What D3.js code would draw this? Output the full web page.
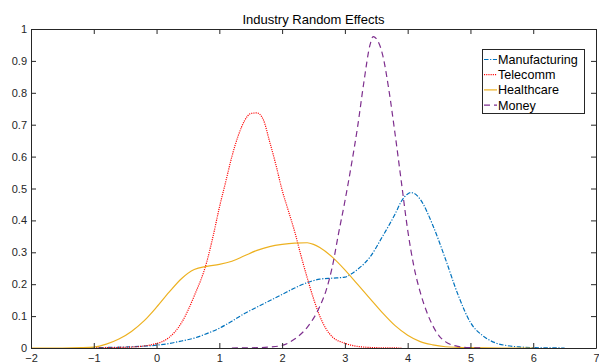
<!DOCTYPE html>
<html>
<head>
<meta charset="utf-8">
<script src="https://cdn.jsdelivr.net/npm/d3@7"></script>
<style>
  html, body { margin: 0; padding: 0; background: #fff; }
  svg { display: block; font-family: "Liberation Sans", Arial, Helvetica, sans-serif; }
</style>
</head>
<body>
<svg id="chart" width="599" height="363"></svg>
<script>
// Kernel density estimates of the industry random effects
const manufacturingX = [-1.2, -1.0, -0.5, 0.0, 0.2, 0.4, 0.6, 0.8, 1.0, 1.2, 1.4, 1.6, 1.8, 2.0, 2.2, 2.4, 2.6, 2.8, 3.0, 3.1, 3.2, 3.4, 3.6, 3.8, 3.9, 4.0, 4.05, 4.1, 4.2, 4.4, 4.6, 4.8, 5.0, 5.2, 5.4, 5.6, 5.8, 6.0, 6.5];
const manufacturingY = [0, 0.001, 0.003, 0.009, 0.014, 0.022, 0.031, 0.045, 0.062, 0.084, 0.108, 0.128, 0.148, 0.168, 0.188, 0.205, 0.216, 0.219, 0.222, 0.232, 0.246, 0.285, 0.35, 0.42, 0.46, 0.483, 0.487, 0.485, 0.466, 0.385, 0.28, 0.168, 0.08, 0.038, 0.016, 0.007, 0.003, 0.001, 0];

const telecommX = [-1.0, -0.8, -0.4, 0.0, 0.2, 0.4, 0.6, 0.8, 0.9, 1.0, 1.1, 1.2, 1.3, 1.4, 1.5, 1.6, 1.7, 1.8, 1.9, 2.0, 2.1, 2.2, 2.3, 2.4, 2.5, 2.6, 2.7, 2.8, 3.0, 3.2, 3.5, 3.9];
const telecommY = [0, 0.001, 0.003, 0.014, 0.033, 0.08, 0.163, 0.27, 0.35, 0.44, 0.52, 0.6, 0.665, 0.712, 0.735, 0.737, 0.716, 0.648, 0.575, 0.495, 0.43, 0.365, 0.29, 0.22, 0.155, 0.1, 0.06, 0.035, 0.015, 0.005, 0.001, 0];

const healthcareX = [-2.0, -1.5, -1.2, -1.0, -0.8, -0.6, -0.4, -0.2, 0.0, 0.2, 0.4, 0.6, 0.8, 1.0, 1.2, 1.4, 1.6, 1.8, 2.0, 2.2, 2.4, 2.5, 2.6, 2.8, 3.0, 3.2, 3.4, 3.6, 3.8, 4.0, 4.2, 4.4, 4.6, 4.8, 5.0, 5.5, 6.0];
const healthcareY = [0, 0, 0.001, 0.003, 0.012, 0.028, 0.052, 0.085, 0.128, 0.175, 0.218, 0.246, 0.256, 0.262, 0.272, 0.289, 0.306, 0.318, 0.325, 0.329, 0.33, 0.325, 0.315, 0.285, 0.245, 0.2, 0.155, 0.11, 0.07, 0.04, 0.02, 0.01, 0.004, 0.002, 0.001, 0, 0];

const moneyX = [1.2, 1.6, 1.8, 2.0, 2.2, 2.4, 2.6, 2.7, 2.8, 2.9, 3.0, 3.1, 3.2, 3.3, 3.4, 3.45, 3.5, 3.6, 3.7, 3.8, 3.9, 4.0, 4.1, 4.2, 4.3, 4.4, 4.5, 4.6, 4.8, 5.0, 5.2];
const moneyY = [0, 0.001, 0.003, 0.008, 0.028, 0.065, 0.13, 0.18, 0.255, 0.36, 0.46, 0.57, 0.69, 0.83, 0.95, 0.976, 0.97, 0.92, 0.81, 0.67, 0.52, 0.37, 0.255, 0.175, 0.115, 0.07, 0.038, 0.02, 0.005, 0.001, 0];

const seriesNames = ["Manufacturing", "Telecomm", "Healthcare", "Money"];
const xTicks = [-2, -1, 0, 1, 2, 3, 4, 5, 6, 7];
const yTicks = [0, 0.1, 0.2, 0.3, 0.4, 0.5, 0.6, 0.7, 0.8, 0.9, 1];
const titleText = "Industry Random Effects";

const series = [
  { name: seriesNames[0], xs: manufacturingX, ys: manufacturingY, color: "#0072BD", dash: "4.5,1.6,1.2,1.6" },
  { name: seriesNames[1], xs: telecommX, ys: telecommY, color: "#FF0000", dash: "1.1,1.1" },
  { name: seriesNames[2], xs: healthcareX, ys: healthcareY, color: "#EDB120", dash: null },
  { name: seriesNames[3], xs: moneyX, ys: moneyY, color: "#7E2F8E", dash: "6,4" }
];

const svg = d3.select("#chart");
const m = { left: 31, right: 596, top: 29, bottom: 348 };
const x = d3.scaleLinear().domain([-2, 7]).range([m.left, m.right]);
const y = d3.scaleLinear().domain([0, 1]).range([m.bottom, m.top]);
const axisColor = "#262626";
const tickLen = 5;

// Curves
const line = d3.line()
  .x(d => x(d[0]))
  .y(d => y(d[1]))
  .curve(d3.curveMonotoneX);

const plot = svg.append("g");
series.forEach(s => {
  const pts = s.xs.map((v, i) => [v, s.ys[i]]);
  const p = plot.append("path")
    .datum(pts)
    .attr("d", line)
    .attr("fill", "none")
    .attr("stroke", s.color)
    .attr("stroke-width", 1.2);
  if (s.dash) p.attr("stroke-dasharray", s.dash);
});

// Axes (box with inward ticks on all sides)
const axes = svg.append("g");
axes.append("g")
  .attr("transform", `translate(0,${m.bottom})`)
  .call(d3.axisBottom(x).tickValues(xTicks).tickSizeInner(-tickLen).tickSizeOuter(0).tickPadding(6).tickFormat(d3.format("d")));
axes.append("g")
  .attr("transform", `translate(0,${m.top})`)
  .call(d3.axisTop(x).tickValues(xTicks).tickSizeInner(-tickLen).tickSizeOuter(0).tickFormat(""));
axes.append("g")
  .attr("transform", `translate(${m.left},0)`)
  .call(d3.axisLeft(y).tickValues(yTicks).tickSizeInner(-tickLen).tickSizeOuter(0).tickPadding(4).tickFormat(d => d === 0 || d === 1 ? String(d) : d3.format(".1f")(d)));
axes.append("g")
  .attr("transform", `translate(${m.right},0)`)
  .call(d3.axisRight(y).tickValues(yTicks).tickSizeInner(-tickLen).tickSizeOuter(0).tickFormat(""));

axes.selectAll(".domain").attr("stroke", axisColor).attr("stroke-width", 1);
axes.selectAll(".tick line").attr("stroke", axisColor).attr("stroke-width", 1);
axes.selectAll(".tick text")
  .attr("fill", axisColor)
  .style("font-size", "11px")
  .style("font-family", "'Liberation Sans', Arial, Helvetica, sans-serif");

// Title
svg.append("text")
  .attr("x", (m.left + m.right) / 2)
  .attr("y", 24)
  .attr("text-anchor", "middle")
  .attr("fill", "#000")
  .style("font-size", "13px")
  .text(titleText);

// Legend
const lg = svg.append("g").attr("transform", "translate(482,49)");
lg.append("rect")
  .attr("x", 0.5).attr("y", 0.5)
  .attr("width", 102).attr("height", 64)
  .attr("fill", "#fff")
  .attr("stroke", axisColor)
  .attr("stroke-width", 1);
series.forEach((s, i) => {
  const cy = 10.5 + i * 15.2;
  const l = lg.append("line")
    .attr("x1", 2).attr("x2", 15)
    .attr("y1", cy).attr("y2", cy)
    .attr("stroke", s.color)
    .attr("stroke-width", 1.2);
  if (s.dash) l.attr("stroke-dasharray", s.dash);
  lg.append("text")
    .attr("x", 16)
    .attr("y", cy)
    .attr("dy", "0.36em")
    .attr("fill", "#000")
    .style("font-size", "12.6px")
    .text(s.name);
});
</script>
</body>
</html>
